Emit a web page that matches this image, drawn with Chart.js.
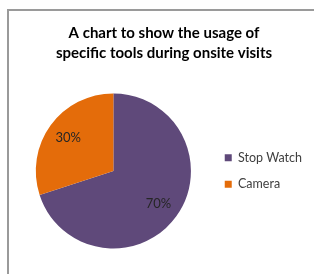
<!DOCTYPE html>
<html>
<head>
<meta charset="utf-8">
<script src="https://cdn.jsdelivr.net/npm/chart.js@4.4.0/dist/chart.umd.min.js"></script>
<style>
  html, body { margin: 0; padding: 0; background: #fff; overflow: hidden; }
  #frame { position: absolute; left: 7px; top: 9px; width: 400px; height: 400px;
           border-top: 2px solid #9a9a9a; border-left: 2px solid #9a9a9a; }
  #wrap { position: absolute; left: 0; top: 0; width: 314px; height: 274px; }
</style>
</head>
<body>
<div id="frame"></div>
<div id="wrap"><canvas id="pieChart"></canvas></div>
<script>
var titleLines = ["A chart to show the usage of", "specific tools during onsite visits"];
var toolLabels = ["Stop Watch", "Camera"];
var toolShares = [70, 30];
var sliceColors = ["#5F497A", "#E46C0A"];

// percent labels inside each slice
var sliceLabels = {
    id: "sliceLabels",
    afterDatasetsDraw: function(chart) {
        var ctx = chart.ctx;
        var meta = chart.getDatasetMeta(0);
        ctx.save();
        ctx.font = "13px Lato";
        ctx.fillStyle = "#262626";
        ctx.textAlign = "center";
        ctx.textBaseline = "middle";
        meta.data.forEach(function(arc, i) {
            var p = arc.getProps(["x", "y", "startAngle", "endAngle", "outerRadius"], true);
            var mid = (p.startAngle + p.endAngle) / 2;
            var r = p.outerRadius * 0.72;
            ctx.fillText(toolShares[i] + "%", p.x + Math.cos(mid) * r, p.y + Math.sin(mid) * r);
        });
        ctx.restore();
    }
};

new Chart("pieChart", {
    type: "pie",
    data: {
        labels: toolLabels,
        datasets: [{
            backgroundColor: sliceColors,
            borderWidth: 0,
            data: toolShares
        }]
    },
    options: {
        responsive: true,
        maintainAspectRatio: false,
        animation: false,
        layout: {
            padding: { left: 16, right: 2, top: 10, bottom: 25.5 }
        },
        plugins: {
            title: {
                display: true,
                text: titleLines,
                color: "#000",
                font: { family: "Lato", size: 15, weight: "bold", lineHeight: 1.33 },
                padding: { top: 13, bottom: 30.5 }
            },
            legend: {
                position: "right",
                fullSize: false,
                labels: {
                    boxWidth: 7,
                    boxHeight: 7,
                    padding: 14,
                    color: "#404040",
                    font: { family: "Lato", size: 12.5 }
                }
            },
            tooltip: { enabled: false }
        }
    },
    plugins: [sliceLabels]
});
</script>
</body>
</html>
